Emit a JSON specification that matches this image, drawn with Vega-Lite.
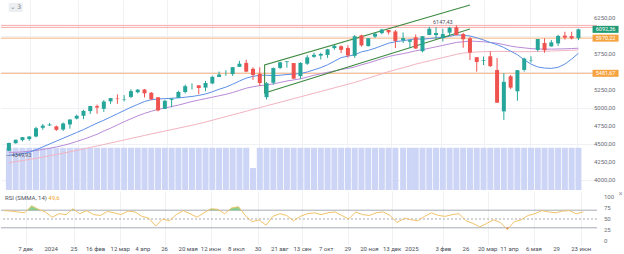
{
"$schema":"https://vega.github.io/schema/vega-lite/v6.json",
"padding":0,
"background":"white",
"spacing":0,
"config":{"font":"Roboto","view":{"stroke":null}},
"datasets":{
"w":[
{"d":"2023-11-15","o":4406,"h":4520,"l":4401,"c":4514,"v":100,"r":69,"m1":4345,"m2":4385,"m3":4240},
{"d":"2023-11-22","o":4511,"h":4560,"l":4506,"c":4559,"v":100,"r":68,"m1":4350,"m2":4385,"m3":4255},
{"d":"2023-11-29","o":4554,"h":4597,"l":4537,"c":4595,"v":100,"r":66,"m1":4365,"m2":4390,"m3":4270},
{"d":"2023-12-06","o":4569,"h":4609,"l":4546,"c":4604,"v":100,"r":64,"m1":4385,"m2":4400,"m3":4285},
{"d":"2023-12-13","o":4604,"h":4738,"l":4593,"c":4719,"v":100,"r":80,"m1":4420,"m2":4410,"m3":4300},
{"d":"2023-12-20","o":4725,"h":4778,"l":4697,"c":4755,"v":100,"r":72,"m1":4460,"m2":4425,"m3":4318},
{"d":"2023-12-27","o":4758,"h":4793,"l":4751,"c":4770,"v":100,"r":66,"m1":4500,"m2":4440,"m3":4336},
{"d":"2024-01-03","o":4745,"h":4755,"l":4682,"c":4697,"v":100,"r":54,"m1":4540,"m2":4460,"m3":4354},
{"d":"2024-01-10","o":4703,"h":4798,"l":4682,"c":4784,"v":100,"r":62,"m1":4580,"m2":4480,"m3":4372},
{"d":"2024-01-17","o":4772,"h":4843,"l":4714,"c":4840,"v":100,"r":60,"m1":4620,"m2":4505,"m3":4392},
{"d":"2024-01-24","o":4853,"h":4907,"l":4842,"c":4891,"v":100,"r":73,"m1":4660,"m2":4535,"m3":4412},
{"d":"2024-01-31","o":4892,"h":4975,"l":4845,"c":4959,"v":100,"r":62,"m1":4700,"m2":4565,"m3":4432},
{"d":"2024-02-07","o":4957,"h":5030,"l":4918,"c":5027,"v":100,"r":69,"m1":4745,"m2":4600,"m3":4452},
{"d":"2024-02-14","o":5026,"h":5048,"l":4920,"c":5006,"v":100,"r":60,"m1":4790,"m2":4635,"m3":4472},
{"d":"2024-02-21","o":4989,"h":5111,"l":4946,"c":5089,"v":100,"r":58,"m1":4830,"m2":4680,"m3":4493},
{"d":"2024-02-28","o":5093,"h":5140,"l":5057,"c":5137,"v":100,"r":67,"m1":4875,"m2":4720,"m3":4514},
{"d":"2024-03-06","o":5131,"h":5189,"l":5057,"c":5124,"v":100,"r":64,"m1":4920,"m2":4765,"m3":4535},
{"d":"2024-03-13","o":5111,"h":5179,"l":5091,"c":5117,"v":100,"r":60,"m1":4965,"m2":4810,"m3":4556},
{"d":"2024-03-20","o":5154,"h":5261,"l":5138,"c":5234,"v":100,"r":68,"m1":5010,"m2":4850,"m3":4577},
{"d":"2024-03-27","o":5219,"h":5264,"l":5204,"c":5254,"v":100,"r":66,"m1":5050,"m2":4890,"m3":4598},
{"d":"2024-04-03","o":5257,"h":5264,"l":5146,"c":5204,"v":100,"r":56,"m1":5090,"m2":4925,"m3":4619},
{"d":"2024-04-10","o":5211,"h":5222,"l":5107,"c":5123,"v":100,"r":52,"m1":5115,"m2":4955,"m3":4640},
{"d":"2024-04-17","o":5149,"h":5150,"l":4953,"c":4967,"v":100,"r":34,"m1":5125,"m2":4980,"m3":4660},
{"d":"2024-04-24","o":4988,"h":5114,"l":4986,"c":5100,"v":100,"r":50,"m1":5130,"m2":5000,"m3":4680},
{"d":"2024-05-01","o":5114,"h":5139,"l":5011,"c":5128,"v":100,"r":46,"m1":5135,"m2":5020,"m3":4700},
{"d":"2024-05-08","o":5142,"h":5239,"l":5142,"c":5223,"v":100,"r":60,"m1":5140,"m2":5040,"m3":4720},
{"d":"2024-05-15","o":5222,"h":5325,"l":5202,"c":5303,"v":100,"r":69,"m1":5150,"m2":5065,"m3":4740},
{"d":"2024-05-22","o":5305,"h":5342,"l":5257,"c":5305,"v":100,"r":62,"m1":5160,"m2":5090,"m3":4760},
{"d":"2024-05-29","o":5315,"h":5315,"l":5191,"c":5278,"v":100,"r":54,"m1":5175,"m2":5110,"m3":4782},
{"d":"2024-06-05","o":5283,"h":5376,"l":5234,"c":5347,"v":100,"r":64,"m1":5195,"m2":5130,"m3":4805},
{"d":"2024-06-12","o":5341,"h":5447,"l":5331,"c":5432,"v":100,"r":73,"m1":5225,"m2":5150,"m3":4830},
{"d":"2024-06-19","o":5432,"h":5506,"l":5432,"c":5465,"v":100,"r":72,"m1":5260,"m2":5170,"m3":4855},
{"d":"2024-06-26","o":5460,"h":5524,"l":5447,"c":5460,"v":100,"r":62,"m1":5290,"m2":5190,"m3":4880},
{"d":"2024-07-03","o":5471,"h":5570,"l":5446,"c":5567,"v":100,"r":75,"m1":5330,"m2":5215,"m3":4905},
{"d":"2024-07-10","o":5572,"h":5655,"l":5571,"c":5615,"v":100,"r":78,"m1":5375,"m2":5245,"m3":4930},
{"d":"2024-07-17","o":5626,"h":5670,"l":5497,"c":5505,"v":100,"r":58,"m1":5415,"m2":5275,"m3":4955},
{"d":"2024-07-24","o":5544,"h":5566,"l":5390,"c":5459,"v":52,"r":44,"m1":5440,"m2":5295,"m3":4980},
{"d":"2024-07-31","o":5476,"h":5566,"l":5306,"c":5347,"v":100,"r":48,"m1":5455,"m2":5310,"m3":5005},
{"d":"2024-08-07","o":5151,"h":5360,"l":5119,"c":5344,"v":100,"r":36,"m1":5455,"m2":5320,"m3":5030},
{"d":"2024-08-14","o":5351,"h":5564,"l":5324,"c":5554,"v":100,"r":56,"m1":5450,"m2":5335,"m3":5055},
{"d":"2024-08-21","o":5557,"h":5643,"l":5541,"c":5634,"v":100,"r":62,"m1":5455,"m2":5355,"m3":5080},
{"d":"2024-08-28","o":5638,"h":5651,"l":5560,"c":5648,"v":100,"r":58,"m1":5465,"m2":5375,"m3":5105},
{"d":"2024-09-04","o":5624,"h":5624,"l":5402,"c":5408,"v":100,"r":46,"m1":5470,"m2":5390,"m3":5130},
{"d":"2024-09-11","o":5443,"h":5636,"l":5406,"c":5626,"v":100,"r":56,"m1":5480,"m2":5405,"m3":5155},
{"d":"2024-09-18","o":5615,"h":5733,"l":5599,"c":5703,"v":100,"r":62,"m1":5500,"m2":5430,"m3":5180},
{"d":"2024-09-25","o":5711,"h":5768,"l":5697,"c":5738,"v":100,"r":64,"m1":5530,"m2":5455,"m3":5205},
{"d":"2024-10-02","o":5727,"h":5767,"l":5674,"c":5751,"v":100,"r":60,"m1":5560,"m2":5475,"m3":5230},
{"d":"2024-10-09","o":5737,"h":5822,"l":5696,"c":5815,"v":100,"r":64,"m1":5600,"m2":5495,"m3":5255},
{"d":"2024-10-16","o":5832,"h":5878,"l":5808,"c":5864,"v":100,"r":66,"m1":5650,"m2":5515,"m3":5280},
{"d":"2024-10-23","o":5858,"h":5869,"l":5762,"c":5808,"v":100,"r":58,"m1":5700,"m2":5535,"m3":5305},
{"d":"2024-10-30","o":5834,"h":5870,"l":5700,"c":5729,"v":100,"r":50,"m1":5720,"m2":5550,"m3":5330},
{"d":"2024-11-06","o":5725,"h":6012,"l":5696,"c":5996,"v":100,"r":66,"m1":5740,"m2":5570,"m3":5355},
{"d":"2024-11-13","o":6009,"h":6018,"l":5853,"c":5870,"v":100,"r":60,"m1":5780,"m2":5600,"m3":5385},
{"d":"2024-11-20","o":5860,"h":5972,"l":5854,"c":5969,"v":100,"r":58,"m1":5800,"m2":5625,"m3":5415},
{"d":"2024-11-27","o":5992,"h":6044,"l":5973,"c":6032,"v":100,"r":64,"m1":5830,"m2":5655,"m3":5445},
{"d":"2024-12-04","o":6040,"h":6099,"l":6024,"c":6090,"v":100,"r":66,"m1":5865,"m2":5685,"m3":5475},
{"d":"2024-12-11","o":6083,"h":6085,"l":6021,"c":6051,"v":100,"r":58,"m1":5900,"m2":5715,"m3":5505},
{"d":"2024-12-18","o":6063,"h":6085,"l":5832,"c":5931,"v":100,"r":42,"m1":5920,"m2":5735,"m3":5530},
{"d":"2024-12-26","o":5941,"h":6050,"l":5903,"c":5971,"v":100,"r":52,"m1":5935,"m2":5755,"m3":5560},
{"d":"2025-01-02","o":5920,"h":5949,"l":5829,"c":5942,"v":100,"r":48,"m1":5950,"m2":5775,"m3":5585},
{"d":"2025-01-08","o":5982,"h":6021,"l":5820,"c":5827,"v":100,"r":46,"m1":5960,"m2":5795,"m3":5610},
{"d":"2025-01-15","o":5789,"h":6000,"l":5773,"c":5997,"v":100,"r":56,"m1":5955,"m2":5810,"m3":5632},
{"d":"2025-01-22","o":6014,"h":6128,"l":6012,"c":6101,"v":100,"r":64,"m1":5965,"m2":5830,"m3":5655},
{"d":"2025-01-29","o":6012,"h":6120,"l":5962,"c":6041,"v":100,"r":58,"m1":5975,"m2":5850,"m3":5678},
{"d":"2025-02-05","o":5970,"h":6101,"l":5924,"c":6026,"v":100,"r":56,"m1":5980,"m2":5870,"m3":5700},
{"d":"2025-02-12","o":6046,"h":6127,"l":6004,"c":6115,"v":100,"r":60,"m1":5995,"m2":5890,"m3":5722},
{"d":"2025-02-19","o":6121,"h":6147.43,"l":6009,"c":6013,"v":100,"r":62,"m1":6015,"m2":5910,"m3":5745},
{"d":"2025-02-26","o":6027,"h":6044,"l":5837,"c":5955,"v":100,"r":46,"m1":6010,"m2":5920,"m3":5762},
{"d":"2025-03-05","o":5968,"h":5986,"l":5666,"c":5770,"v":100,"r":40,"m1":6000,"m2":5930,"m3":5772},
{"d":"2025-03-12","o":5706,"h":5706,"l":5505,"c":5639,"v":100,"r":32,"m1":5975,"m2":5925,"m3":5778},
{"d":"2025-03-19","o":5658,"h":5715,"l":5597,"c":5667,"v":100,"r":40,"m1":5945,"m2":5920,"m3":5782},
{"d":"2025-03-26","o":5718,"h":5786,"l":5572,"c":5581,"v":100,"r":48,"m1":5910,"m2":5910,"m3":5785},
{"d":"2025-04-02","o":5527,"h":5695,"l":5069,"c":5074,"v":100,"r":42,"m1":5880,"m2":5900,"m3":5787},
{"d":"2025-04-09","o":4953,"h":5482,"l":4835,"c":5363,"v":100,"r":26,"m1":5840,"m2":5880,"m3":5785},
{"d":"2025-04-16","o":5441,"h":5459,"l":5262,"c":5283,"v":100,"r":44,"m1":5790,"m2":5860,"m3":5783},
{"d":"2025-04-23","o":5232,"h":5528,"l":5101,"c":5525,"v":100,"r":48,"m1":5740,"m2":5845,"m3":5782},
{"d":"2025-04-30","o":5529,"h":5700,"l":5506,"c":5686,"v":100,"r":58,"m1":5670,"m2":5835,"m3":5782},
{"d":"2025-05-07","o":5655,"h":5720,"l":5630,"c":5660,"v":100,"r":62,"m1":5610,"m2":5825,"m3":5783},
{"d":"2025-05-14","o":5807,"h":5959,"l":5786,"c":5958,"v":100,"r":69,"m1":5570,"m2":5820,"m3":5785},
{"d":"2025-05-21","o":5902,"h":5968,"l":5768,"c":5803,"v":100,"r":66,"m1":5555,"m2":5818,"m3":5788},
{"d":"2025-05-28","o":5855,"h":5944,"l":5854,"c":5912,"v":100,"r":64,"m1":5550,"m2":5818,"m3":5792},
{"d":"2025-06-04","o":5897,"h":6017,"l":5861,"c":6000,"v":100,"r":68,"m1":5565,"m2":5820,"m3":5795},
{"d":"2025-06-11","o":6005,"h":6059,"l":5949,"c":5977,"v":100,"r":69,"m1":5610,"m2":5822,"m3":5798},
{"d":"2025-06-18","o":5999,"h":6060,"l":5952,"c":5967,"v":100,"r":62,"m1":5680,"m2":5826,"m3":5802},
{"d":"2025-06-25","o":5970,"h":6101,"l":5943,"c":6092.36,"v":100,"r":66,"m1":5760,"m2":5830,"m3":5806}
],
"ob":[
{"d":"2023-12-09","r":70,"s":"a"},{"d":"2023-12-13","r":80,"s":"a"},{"d":"2023-12-20","r":72,"s":"a"},{"d":"2023-12-22","r":70,"s":"a"},
{"d":"2024-01-22","r":70,"s":"b"},{"d":"2024-01-24","r":73,"s":"b"},{"d":"2024-01-26","r":70,"s":"b"},
{"d":"2024-06-10","r":70,"s":"c"},{"d":"2024-06-12","r":73,"s":"c"},{"d":"2024-06-19","r":72,"s":"c"},{"d":"2024-06-20","r":70,"s":"c"},
{"d":"2024-06-30","r":70,"s":"e"},{"d":"2024-07-03","r":75,"s":"e"},{"d":"2024-07-10","r":78,"s":"e"},{"d":"2024-07-13","r":70,"s":"e"}
],
"os":[{"d":"2025-04-07","r":30},{"d":"2025-04-09","r":26},{"d":"2025-04-11","r":30}],
"channel":[{"d":"2025-03-05","p":6431,"o":1},{"d":"2024-08-05","p":5597,"o":2},{"d":"2024-08-05","p":5208,"o":3},{"d":"2025-03-05","p":6097,"o":4}],
"xl":[{"d":"2023-12-07","t":"7 дек"},{"d":"2024-01-02","t":"2024"},{"d":"2024-01-25","t":"25"},{"d":"2024-02-16","t":"16 фев"},{"d":"2024-03-12","t":"12 мар"},{"d":"2024-04-04","t":"4 апр"},{"d":"2024-04-26","t":"26"},{"d":"2024-05-20","t":"20 мая"},{"d":"2024-06-12","t":"12 июн"},{"d":"2024-07-08","t":"8 июл"},{"d":"2024-07-30","t":"30"},{"d":"2024-08-21","t":"21 авг"},{"d":"2024-09-13","t":"13 сен"},{"d":"2024-10-07","t":"7 окт"},{"d":"2024-10-29","t":"29"},{"d":"2024-11-20","t":"20 ноя"},{"d":"2024-12-13","t":"13 дек"},{"d":"2025-01-02","t":"2025"},{"d":"2025-02-03","t":"3 фев"},{"d":"2025-02-26","t":"26"},{"d":"2025-03-20","t":"20 мар"},{"d":"2025-04-11","t":"11 апр"},{"d":"2025-05-06","t":"6 мая"},{"d":"2025-05-29","t":"29"},{"d":"2025-06-23","t":"23 июн"}],
"yl":[{"p":4000,"t":"4000,00"},{"p":4250,"t":"4250,00"},{"p":4500,"t":"4500,00"},{"p":4750,"t":"4750,00"},{"p":5000,"t":"5000,00"},{"p":5250,"t":"5250,00"},{"p":5750,"t":"5750,00"},{"p":6250,"t":"6250,00"}],
"rl":[{"r":100,"t":"100"},{"r":75,"t":"75"},{"r":50,"t":"50"},{"r":25,"t":"25"},{"r":0,"t":"0"}]
},
"vconcat":[
{
"width":596,"height":190,
"resolve":{"scale":{"y":"independent"}},
"layer":[
{"data":{"name":"w"},"mark":{"type":"bar","size":6,"color":"#cdd5f6"},
 "encoding":{
  "x":{"field":"d","type":"temporal","title":null,"scale":{"type":"utc","domain":[{"year":2023,"month":11,"date":12,"utc":true},{"year":2025,"month":7,"date":9,"utc":true}]},
   "axis":{"values":[{"year":2023,"month":12,"date":7,"utc":true},{"year":2024,"month":1,"date":2,"utc":true},{"year":2024,"month":1,"date":25,"utc":true},{"year":2024,"month":2,"date":16,"utc":true},{"year":2024,"month":3,"date":12,"utc":true},{"year":2024,"month":4,"date":4,"utc":true},{"year":2024,"month":4,"date":26,"utc":true},{"year":2024,"month":5,"date":20,"utc":true},{"year":2024,"month":6,"date":12,"utc":true},{"year":2024,"month":7,"date":8,"utc":true},{"year":2024,"month":7,"date":30,"utc":true},{"year":2024,"month":8,"date":21,"utc":true},{"year":2024,"month":9,"date":13,"utc":true},{"year":2024,"month":10,"date":7,"utc":true},{"year":2024,"month":10,"date":29,"utc":true},{"year":2024,"month":11,"date":20,"utc":true},{"year":2024,"month":12,"date":13,"utc":true},{"year":2025,"month":1,"date":2,"utc":true},{"year":2025,"month":2,"date":3,"utc":true},{"year":2025,"month":2,"date":26,"utc":true},{"year":2025,"month":3,"date":20,"utc":true},{"year":2025,"month":4,"date":11,"utc":true},{"year":2025,"month":5,"date":6,"utc":true},{"year":2025,"month":5,"date":29,"utc":true},{"year":2025,"month":6,"date":23,"utc":true}],
   "labels":false,"ticks":false,"domain":false,"grid":true,"gridColor":"#f0f1f5","title":null}},
  "y":{"field":"v","type":"quantitative","title":null,"scale":{"domain":[0,450],"nice":false},"axis":null}
 }},
{"layer":[
 {"data":{"values":[{"p":6147.43},{"p":6120}]},"mark":{"type":"rule","color":"#f6abab","strokeWidth":1},
  "encoding":{"y":{"field":"p","type":"quantitative","title":null,"scale":{"domain":[3861.1,6500],"nice":false,"zero":false},
   "axis":{"orient":"right","values":[4000,4250,4500,4750,5000,5250,5500,5750,6000,6250],"labels":false,"ticks":false,"domain":false,"grid":true,"gridColor":"#f0f1f5","title":null}}}},
 {"data":{"values":[{"p":5970.22},{"p":5481.67}]},"mark":{"type":"rule","color":"#f8b47e","strokeWidth":1},
  "encoding":{"y":{"field":"p","type":"quantitative","title":null,"scale":{"domain":[3861.1,6500],"nice":false,"zero":false}}}},
 {"data":{"name":"w"},"mark":{"type":"line","color":"#f2b3c0","strokeWidth":1},
  "encoding":{"x":{"field":"d","type":"temporal","title":null,"scale":{"type":"utc","domain":[{"year":2023,"month":11,"date":12,"utc":true},{"year":2025,"month":7,"date":9,"utc":true}]}},
   "y":{"field":"m3","type":"quantitative","title":null,"scale":{"domain":[3861.1,6500],"nice":false,"zero":false}}}},
 {"data":{"name":"w"},"mark":{"type":"line","color":"#b98ad8","strokeWidth":1},
  "encoding":{"x":{"field":"d","type":"temporal","title":null,"scale":{"type":"utc","domain":[{"year":2023,"month":11,"date":12,"utc":true},{"year":2025,"month":7,"date":9,"utc":true}]}},
   "y":{"field":"m2","type":"quantitative","title":null,"scale":{"domain":[3861.1,6500],"nice":false,"zero":false}}}},
 {"data":{"name":"w"},"mark":{"type":"line","color":"#5c8fe6","strokeWidth":1},
  "encoding":{"x":{"field":"d","type":"temporal","title":null,"scale":{"type":"utc","domain":[{"year":2023,"month":11,"date":12,"utc":true},{"year":2025,"month":7,"date":9,"utc":true}]}},
   "y":{"field":"m1","type":"quantitative","title":null,"scale":{"domain":[3861.1,6500],"nice":false,"zero":false}}}},
 {"data":{"name":"channel"},"mark":{"type":"line","color":"#3d8b40","strokeWidth":1.1},
  "encoding":{"x":{"field":"d","type":"temporal","title":null,"scale":{"type":"utc","domain":[{"year":2023,"month":11,"date":12,"utc":true},{"year":2025,"month":7,"date":9,"utc":true}]}},
   "y":{"field":"p","type":"quantitative","title":null,"scale":{"domain":[3861.1,6500],"nice":false,"zero":false}},
   "order":{"field":"o","type":"quantitative"}}},
 {"data":{"name":"w"},"mark":{"type":"rule","strokeWidth":1},
  "encoding":{"x":{"field":"d","type":"temporal","title":null,"scale":{"type":"utc","domain":[{"year":2023,"month":11,"date":12,"utc":true},{"year":2025,"month":7,"date":9,"utc":true}]}},
   "y":{"field":"l","type":"quantitative","title":null,"scale":{"domain":[3861.1,6500],"nice":false,"zero":false}},
   "y2":{"field":"h"},
   "color":{"condition":{"test":"datum.c >= datum.o","value":"#26a69a"},"value":"#ef5350"}}},
 {"data":{"name":"w"},"mark":{"type":"bar","size":4},
  "encoding":{"x":{"field":"d","type":"temporal","title":null,"scale":{"type":"utc","domain":[{"year":2023,"month":11,"date":12,"utc":true},{"year":2025,"month":7,"date":9,"utc":true}]}},
   "y":{"field":"o","type":"quantitative","title":null,"scale":{"domain":[3861.1,6500],"nice":false,"zero":false}},
   "y2":{"field":"c"},
   "color":{"condition":{"test":"datum.c >= datum.o","value":"#26a69a"},"value":"#ef5350"}}},
 {"data":{"values":[{"p":6147.43,"t":"6147,43"}]},"mark":{"type":"text","fontSize":5.5,"color":"#50535e","align":"center","baseline":"bottom"},
  "encoding":{"x":{"datum":{"year":2025,"month":2,"date":5,"utc":true},"type":"temporal","title":null,"scale":{"type":"utc","domain":[{"year":2023,"month":11,"date":12,"utc":true},{"year":2025,"month":7,"date":9,"utc":true}]}},
   "y":{"field":"p","type":"quantitative","title":null,"scale":{"domain":[3861.1,6500],"nice":false,"zero":false}},
   "text":{"field":"t"}}},
 {"data":{"values":[{"p":4349.93,"t":"— 4349,93"}]},"mark":{"type":"text","fontSize":5.5,"color":"#50535e","align":"left","baseline":"middle"},
  "encoding":{"x":{"datum":{"year":2023,"month":11,"date":12,"utc":true},"type":"temporal","title":null,"scale":{"type":"utc","domain":[{"year":2023,"month":11,"date":12,"utc":true},{"year":2025,"month":7,"date":9,"utc":true}]}},
   "y":{"field":"p","type":"quantitative","title":null,"scale":{"domain":[3861.1,6500],"nice":false,"zero":false}},
   "text":{"field":"t"}}},
 {"data":{"values":[{"p":6396}]},"mark":{"type":"point","filled":true,"opacity":1,"color":"#eceef2","shape":"M-1,-0.65L1,-0.65L1,0.65L-1,0.65Z","size":196},
  "encoding":{"x":{"datum":{"year":2023,"month":11,"date":22,"utc":true},"type":"temporal","title":null,"scale":{"type":"utc","domain":[{"year":2023,"month":11,"date":12,"utc":true},{"year":2025,"month":7,"date":9,"utc":true}]}},
   "y":{"field":"p","type":"quantitative","title":null,"scale":{"domain":[3861.1,6500],"nice":false,"zero":false}}}},
 {"data":{"values":[{"p":6396,"t":"⌄ 3"}]},"mark":{"type":"text","fontSize":6,"font":"DejaVu Sans","color":"#787b86","align":"center","baseline":"middle"},
  "encoding":{"x":{"datum":{"year":2023,"month":11,"date":22,"utc":true},"type":"temporal","title":null,"scale":{"type":"utc","domain":[{"year":2023,"month":11,"date":12,"utc":true},{"year":2025,"month":7,"date":9,"utc":true}]}},
   "y":{"field":"p","type":"quantitative","title":null,"scale":{"domain":[3861.1,6500],"nice":false,"zero":false}},
   "text":{"field":"t"}}},
 {"data":{"name":"yl"},"mark":{"type":"text","fontSize":6,"color":"#6a6d78","align":"left","baseline":"middle"},
  "encoding":{"x":{"datum":{"year":2025,"month":7,"date":11,"utc":true},"type":"temporal","title":null,"scale":{"type":"utc","domain":[{"year":2023,"month":11,"date":12,"utc":true},{"year":2025,"month":7,"date":9,"utc":true}]}},
   "y":{"field":"p","type":"quantitative","title":null,"scale":{"domain":[3861.1,6500],"nice":false,"zero":false}},
   "text":{"field":"t"}}},
 {"data":{"values":[{"p":6092.36}]},"mark":{"type":"point","filled":true,"opacity":1,"color":"#1f9a74","shape":"M-1,-0.27L1,-0.27L1,0.27L-1,0.27Z","size":676},
  "encoding":{"x":{"datum":{"year":2025,"month":7,"date":23,"utc":true},"type":"temporal","title":null,"scale":{"type":"utc","domain":[{"year":2023,"month":11,"date":12,"utc":true},{"year":2025,"month":7,"date":9,"utc":true}]}},
   "y":{"field":"p","type":"quantitative","title":null,"scale":{"domain":[3861.1,6500],"nice":false,"zero":false}}}},
 {"data":{"values":[{"p":5970.22},{"p":5481.67}]},"mark":{"type":"point","filled":true,"opacity":1,"color":"#f6a23e","shape":"M-1,-0.27L1,-0.27L1,0.27L-1,0.27Z","size":676},
  "encoding":{"x":{"datum":{"year":2025,"month":7,"date":23,"utc":true},"type":"temporal","title":null,"scale":{"type":"utc","domain":[{"year":2023,"month":11,"date":12,"utc":true},{"year":2025,"month":7,"date":9,"utc":true}]}},
   "y":{"field":"p","type":"quantitative","title":null,"scale":{"domain":[3861.1,6500],"nice":false,"zero":false}}}},
 {"data":{"values":[{"p":6092.36,"t":"6092,36"},{"p":5970.22,"t":"5970,22"},{"p":5481.67,"t":"5481,67"}]},"mark":{"type":"text","fontSize":5.5,"color":"white","align":"center","baseline":"middle"},
  "encoding":{"x":{"datum":{"year":2025,"month":7,"date":23,"utc":true},"type":"temporal","title":null,"scale":{"type":"utc","domain":[{"year":2023,"month":11,"date":12,"utc":true},{"year":2025,"month":7,"date":9,"utc":true}]}},
   "y":{"field":"p","type":"quantitative","title":null,"scale":{"domain":[3861.1,6500],"nice":false,"zero":false}},
   "text":{"field":"t"}}}
]}
]
},
{
"width":596,"height":54,
"layer":[
 {"data":{"values":[{"lv":70},{"lv":30}]},"mark":{"type":"rule","color":"#a8abb5","strokeWidth":1},
  "encoding":{"y":{"field":"lv","type":"quantitative","title":null,"scale":{"domain":[-9.1,113.6],"nice":false,"zero":false},"axis":null}}},
 {"data":{"values":[{"lv":50}]},"mark":{"type":"rule","color":"#a8abb5","strokeWidth":1,"strokeDash":[2,2]},
  "encoding":{"y":{"field":"lv","type":"quantitative","title":null,"scale":{"domain":[-9.1,113.6],"nice":false,"zero":false},"axis":null}}},
 {"data":{"name":"ob"},"mark":{"type":"area","color":"#66c26a","opacity":0.75},
  "encoding":{"x":{"field":"d","type":"temporal","title":null,"scale":{"type":"utc","domain":[{"year":2023,"month":11,"date":12,"utc":true},{"year":2025,"month":7,"date":9,"utc":true}]},
   "axis":{"values":[{"year":2023,"month":12,"date":7,"utc":true},{"year":2024,"month":1,"date":2,"utc":true},{"year":2024,"month":1,"date":25,"utc":true},{"year":2024,"month":2,"date":16,"utc":true},{"year":2024,"month":3,"date":12,"utc":true},{"year":2024,"month":4,"date":4,"utc":true},{"year":2024,"month":4,"date":26,"utc":true},{"year":2024,"month":5,"date":20,"utc":true},{"year":2024,"month":6,"date":12,"utc":true},{"year":2024,"month":7,"date":8,"utc":true},{"year":2024,"month":7,"date":30,"utc":true},{"year":2024,"month":8,"date":21,"utc":true},{"year":2024,"month":9,"date":13,"utc":true},{"year":2024,"month":10,"date":7,"utc":true},{"year":2024,"month":10,"date":29,"utc":true},{"year":2024,"month":11,"date":20,"utc":true},{"year":2024,"month":12,"date":13,"utc":true},{"year":2025,"month":1,"date":2,"utc":true},{"year":2025,"month":2,"date":3,"utc":true},{"year":2025,"month":2,"date":26,"utc":true},{"year":2025,"month":3,"date":20,"utc":true},{"year":2025,"month":4,"date":11,"utc":true},{"year":2025,"month":5,"date":6,"utc":true},{"year":2025,"month":5,"date":29,"utc":true},{"year":2025,"month":6,"date":23,"utc":true}],
    "labels":false,"ticks":false,"domain":false,"grid":true,"gridColor":"#f0f1f5","title":null}},
   "y":{"field":"r","type":"quantitative","title":null,"scale":{"domain":[-9.1,113.6],"nice":false,"zero":false},"axis":null},
   "y2":{"datum":70},
   "detail":{"field":"s","type":"nominal"}}},
 {"data":{"name":"os"},"mark":{"type":"area","color":"#ef5350","opacity":0.8},
  "encoding":{"x":{"field":"d","type":"temporal","title":null,"scale":{"type":"utc","domain":[{"year":2023,"month":11,"date":12,"utc":true},{"year":2025,"month":7,"date":9,"utc":true}]}},
   "y":{"field":"r","type":"quantitative","title":null,"scale":{"domain":[-9.1,113.6],"nice":false,"zero":false},"axis":null},
   "y2":{"datum":30}}},
 {"data":{"name":"w"},"mark":{"type":"line","color":"#f0c36a","strokeWidth":1},
  "encoding":{"x":{"field":"d","type":"temporal","title":null,"scale":{"type":"utc","domain":[{"year":2023,"month":11,"date":12,"utc":true},{"year":2025,"month":7,"date":9,"utc":true}]}},
   "y":{"field":"r","type":"quantitative","title":null,"scale":{"domain":[-9.1,113.6],"nice":false,"zero":false},"axis":null}}},
 {"data":{"values":[{"r":97.5,"t":"RSI (SMMA, 14)"}]},"mark":{"type":"text","fontSize":6,"color":"#50535e","align":"left","baseline":"middle"},
  "encoding":{"x":{"datum":{"year":2023,"month":11,"date":16,"utc":true},"type":"temporal","title":null,"scale":{"type":"utc","domain":[{"year":2023,"month":11,"date":12,"utc":true},{"year":2025,"month":7,"date":9,"utc":true}]}},
   "y":{"field":"r","type":"quantitative","title":null,"scale":{"domain":[-9.1,113.6],"nice":false,"zero":false},"axis":null},
   "text":{"field":"t"}}},
 {"data":{"values":[{"r":97.5,"t":"49,6"}]},"mark":{"type":"text","fontSize":6,"color":"#f0a830","align":"left","baseline":"middle"},
  "encoding":{"x":{"datum":{"year":2023,"month":12,"date":30,"utc":true},"type":"temporal","title":null,"scale":{"type":"utc","domain":[{"year":2023,"month":11,"date":12,"utc":true},{"year":2025,"month":7,"date":9,"utc":true}]}},
   "y":{"field":"r","type":"quantitative","title":null,"scale":{"domain":[-9.1,113.6],"nice":false,"zero":false},"axis":null},
   "text":{"field":"t"}}},
 {"data":{"name":"rl"},"mark":{"type":"text","fontSize":6,"color":"#6a6d78","align":"left","baseline":"middle"},
  "encoding":{"x":{"datum":{"year":2025,"month":7,"date":16,"utc":true},"type":"temporal","title":null,"scale":{"type":"utc","domain":[{"year":2023,"month":11,"date":12,"utc":true},{"year":2025,"month":7,"date":9,"utc":true}]}},
   "y":{"field":"r","type":"quantitative","title":null,"scale":{"domain":[-9.1,113.6],"nice":false,"zero":false},"axis":null},
   "text":{"field":"t"}}},
 {"data":{"name":"xl"},"mark":{"type":"text","fontSize":6,"color":"#4a4d57","align":"center","baseline":"middle"},
  "encoding":{"x":{"field":"d","type":"temporal","title":null,"scale":{"type":"utc","domain":[{"year":2023,"month":11,"date":12,"utc":true},{"year":2025,"month":7,"date":9,"utc":true}]}},
   "y":{"datum":-18,"type":"quantitative","scale":{"domain":[-9.1,113.6],"nice":false,"zero":false},"axis":null},
   "text":{"field":"t"}}},
 {"data":{"values":[{"r":106,"t":"×"}]},"mark":{"type":"text","fontSize":7,"color":"#9598a1","align":"center","baseline":"middle"},
  "encoding":{"x":{"datum":{"year":2025,"month":8,"date":2,"utc":true},"type":"temporal","title":null,"scale":{"type":"utc","domain":[{"year":2023,"month":11,"date":12,"utc":true},{"year":2025,"month":7,"date":9,"utc":true}]}},
   "y":{"field":"r","type":"quantitative","title":null,"scale":{"domain":[-9.1,113.6],"nice":false,"zero":false},"axis":null},
   "text":{"field":"t"}}}
]
}
]
}
